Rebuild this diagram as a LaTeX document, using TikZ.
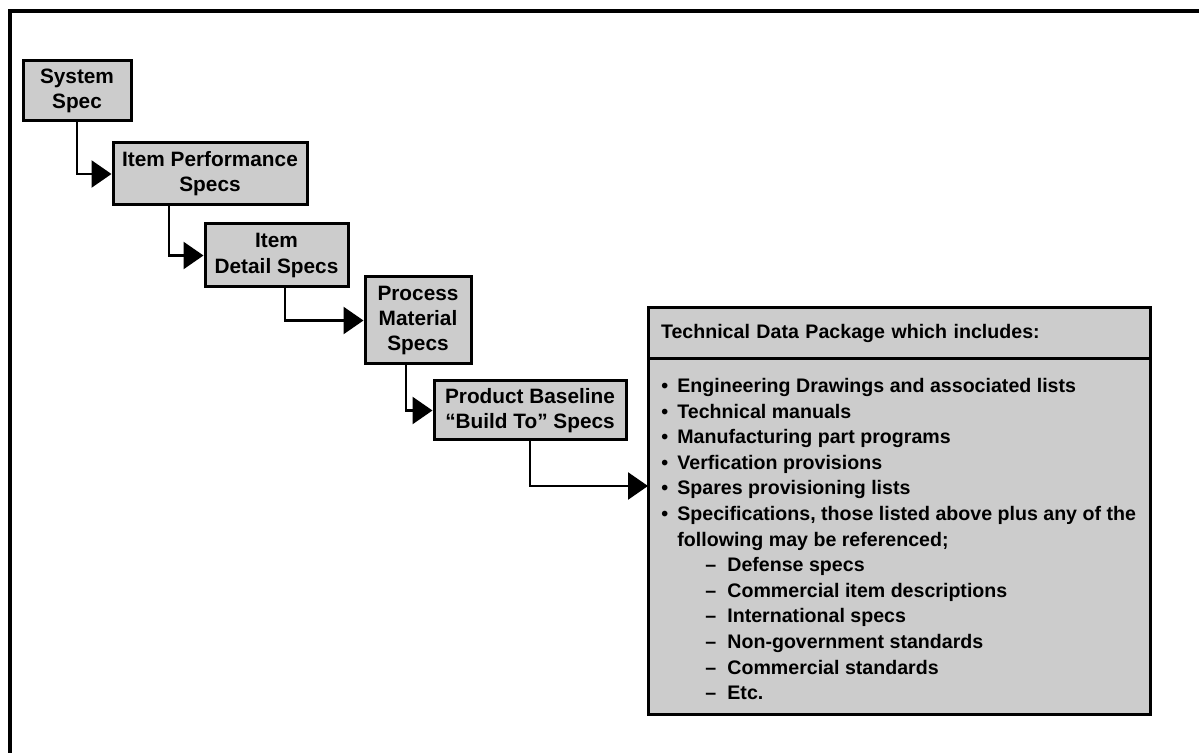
\documentclass[tikz,border=0pt]{standalone}
\usepackage{fontspec}
\setmainfont{Liberation Sans}
\usetikzlibrary{positioning,arrows.meta,calc}

\newcommand{\bul}{\makebox[8pt][l]{\textbullet}}
\newcommand{\dsh}{\hspace*{22pt}\makebox[11pt][l]{--}}

\begin{document}
\begin{tikzpicture}[
  x=0.5pt, y=-0.5pt,
  font=\fontsize{9.8}{12.8}\selectfont\bfseries,
  frm/.style  = {draw, line width=1.7pt},
  spec/.style = {draw, fill=black!20, line width=1.5pt, align=center, inner sep=0pt,
                 font=\fontsize{10.4}{12.6}\selectfont\bfseries},
  pkg/.style  = {draw, fill=black!20, line width=1.5pt, minimum width=251pt,
                 inner sep=0pt, outer sep=0pt},
  lst/.style  = {align=left, inner sep=0pt},
  conn/.style = {line width=1.3pt, -{Triangle[length=10pt, width=13.5pt]}},
]
\useasboundingbox (0,0) rectangle (1199,753);
\clip (0,0) rectangle (1199,753);

% ======================= frame =========================================
\draw[frm] (10,11) rectangle (1260,800);

% ======================= spec ladder ===================================
\node[spec, minimum width=54pt, minimum height=30pt]   (sys)    at (77,91)      {System\\Spec};
\node[spec, minimum width=97pt, minimum height=31pt]   (perf)   at (210,174)    {Item Performance\\Specs};
\node[spec, minimum width=71.5pt, minimum height=31.5pt] (detail) at (276.5,255.5) {Item\\Detail Specs};
\node[spec, minimum width=53pt, minimum height=43.5pt] (proc)   at (418,320.5)  {Process\\Material\\Specs};
\node[spec, minimum width=96pt, minimum height=29.5pt] (prod)   at (530,410.5)  {Product Baseline\\“Build To” Specs};

\foreach \a/\b/\dx in {sys/perf/0pt, perf/detail/-20.5pt, detail/proc/4.25pt, proc/prod/-6pt} {
  \draw[conn] ([xshift=\dx]\a.south) |- (\b.west);
}

% ======================= technical data package ========================
\node[pkg, minimum height=25.5pt, text width=238pt, align=left, inner xsep=6.5pt]
  (tdphead) at (899,333.5) {Technical Data Package which includes:};
\node[pkg, minimum height=177.5pt, below=0pt of tdphead] (tdpbody) {};
\node[lst, anchor=north west] (tdplist) at ([xshift=6.5pt, yshift=-9.4pt]tdpbody.north west) {%
  \bul Engineering Drawings and associated lists\\
  \bul Technical manuals\\
  \bul Manufacturing part programs\\
  \bul Verfication provisions\\
  \bul Spares provisioning lists\\
  \bul Specifications, those listed above plus any of the\\
  \hspace*{8pt}following may be referenced;\\
  \dsh Defense specs\\
  \dsh Commercial item descriptions\\
  \dsh International specs\\
  \dsh Non-government standards\\
  \dsh Commercial standards\\
  \dsh Etc.};

\draw[conn] (prod.south) |- ([yshift=25.25pt]tdpbody.west);

\end{tikzpicture}
\end{document}
